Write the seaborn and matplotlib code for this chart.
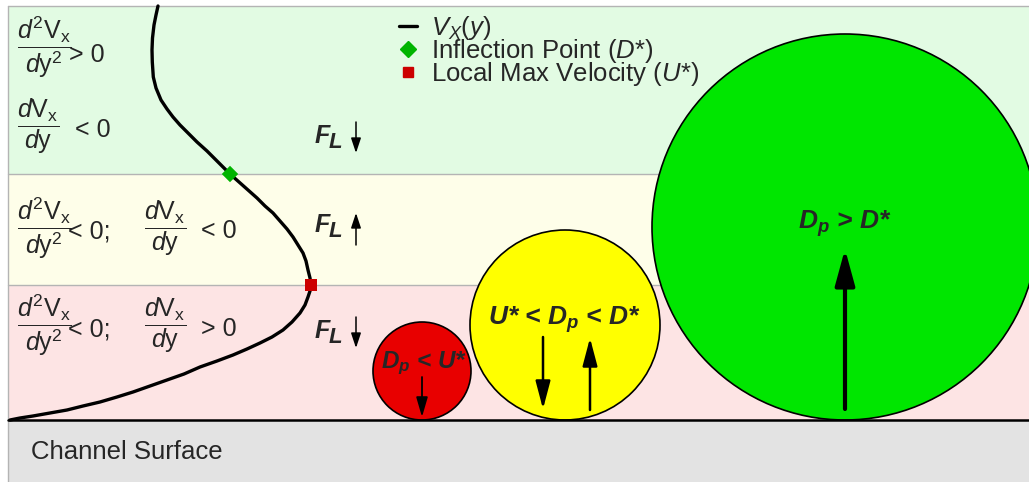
import matplotlib
matplotlib.use("Agg")
import matplotlib.pyplot as plt
from matplotlib.patches import Circle
from matplotlib.lines import Line2D
import seaborn as sns

sns.set_theme(style="white")
plt.rcParams["font.family"] = ["Liberation Sans", "DejaVu Sans"]
plt.rcParams["mathtext.fontset"] = "custom"
plt.rcParams["mathtext.rm"] = "Liberation Sans"
plt.rcParams["mathtext.it"] = "Liberation Sans:italic"
plt.rcParams["mathtext.bf"] = "Liberation Sans:bold"
plt.rcParams["mathtext.bfit"] = "Liberation Sans:bold:italic"
plt.rcParams["mathtext.sf"] = "Liberation Sans"

# ---- geometry of the channel (drawing units, y grows downward) ----
frame_left = 8
frame_top = 6
band_edges = [6, 174, 285, 420]          # tops/bottoms of the three flow zones
band_colors = ["#e2fbe3", "#fefee9", "#fde4e4"]
surface_y = 420
surface_color = "#e3e3e3"

# velocity profile V_x(y)
profile_x = [158, 156, 154, 152.5, 152, 152.3, 153.3, 156, 161, 167, 173, 180,
             188, 197, 207, 218, 230, 239, 248, 257, 265, 273, 280, 287, 293,
             298, 303, 306, 308, 310, 311, 310, 308, 305, 300, 292, 283, 272,
             260, 247, 233, 217, 200, 184, 167, 150, 133, 117, 100, 83, 67, 50,
             33, 20, 10]
profile_y = [6, 15, 25, 38, 50, 62, 77, 88, 100, 109, 117, 125, 133, 142, 151,
             162, 174, 182, 190, 198, 206, 213, 221, 229, 237, 245, 253, 261,
             270, 278, 285, 291, 297, 305, 313, 322, 330, 337, 343, 349, 355,
             361, 367, 374, 380, 386, 392, 397, 402, 406, 410, 413, 416, 418,
             420]
inflection = (230, 174)       # D*
local_max = (311, 285)        # U*

# particles resting on the surface
particle_x = [422, 565, 845]
particle_r = [49, 95, 193]
particle_colors = ["#e80000", "#ffff00", "#00e600"]
particle_labels = [r"$\mathbfit{D}_{\mathbfit{p}}$ < U*",
                   r"U* < $\mathbfit{D}_{\mathbfit{p}}$ < D*",
                   r"$\mathbfit{D}_{\mathbfit{p}}$ > D*"]

fig = plt.figure(figsize=(10.29, 4.82), dpi=100)
ax = fig.add_axes([0, 0, 1, 1])
ax.set_xlim(0, 1029)
ax.set_ylim(482, 0)
ax.axis("off")

# flow zones
for top, bot, col in zip(band_edges[:-1], band_edges[1:], band_colors):
    ax.fill_between([frame_left, 1029], top, bot, color=col, lw=0, zorder=0)
ax.fill_between([frame_left, 1029], surface_y, 482, color=surface_color, lw=0, zorder=0)
for y in band_edges[:-1]:
    ax.plot([frame_left, 1029], [y, y], color="#b4b4b4", lw=1.0, zorder=1)
ax.plot([frame_left, frame_left], [frame_top, 482], color="#b4b4b4", lw=1.0, zorder=1)

# particles
for cx, r, col in zip(particle_x, particle_r, particle_colors):
    ax.add_patch(Circle((cx, surface_y - r), r, facecolor=col,
                        edgecolor="black", lw=1.2, zorder=2))

ax.plot([frame_left, 1029], [surface_y, surface_y], color="black", lw=1.8, zorder=3)

# velocity profile (drawn in point order, no aggregation) and its characteristic points
sns.lineplot(x=profile_x, y=profile_y, sort=False, estimator=None, errorbar=None,
             ax=ax, color="black", lw=2.4, zorder=4)
sns.scatterplot(x=[inflection[0]], y=[inflection[1]], marker="D", s=70,
                color="#00b400", edgecolor="none", ax=ax, zorder=5)
sns.scatterplot(x=[local_max[0]], y=[local_max[1]], marker="s", s=75,
                color="#cc0000", edgecolor="none", ax=ax, zorder=5)
ax.set_xlim(0, 1029)
ax.set_ylim(482, 0)

# derivative annotations
frac2 = r"$\dfrac{\mathit{d}^{2}\mathrm{V}_{\mathrm{x}}}{\mathit{d}\mathrm{y}^{2}}$"
frac1 = r"$\dfrac{\mathit{d}\mathrm{V}_{\mathrm{x}}}{\mathit{d}\mathrm{y}}$"
fs = 18
ax.text(17, 47, frac2, fontsize=fs, va="center", ha="left", zorder=6)
ax.text(69, 62, "> 0", fontsize=fs, va="baseline", ha="left", zorder=6)
ax.text(17, 126, frac1, fontsize=fs, va="center", ha="left", zorder=6)
ax.text(75, 137, "< 0", fontsize=fs, va="baseline", ha="left", zorder=6)
ax.text(17, 228, frac2, fontsize=fs, va="center", ha="left", zorder=6)
ax.text(68, 238, "< 0;", fontsize=fs, va="baseline", ha="left", zorder=6)
ax.text(144, 228, frac1, fontsize=fs, va="center", ha="left", zorder=6)
ax.text(201, 238, "< 0", fontsize=fs, va="baseline", ha="left", zorder=6)
ax.text(17, 325, frac2, fontsize=fs, va="center", ha="left", zorder=6)
ax.text(68, 336, "< 0;", fontsize=fs, va="baseline", ha="left", zorder=6)
ax.text(144, 325, frac1, fontsize=fs, va="center", ha="left", zorder=6)
ax.text(201, 336, "> 0", fontsize=fs, va="baseline", ha="left", zorder=6)


def arrow(x, y0, y1, lw, hl, hw, ms=10):
    ax.annotate("", xy=(x, y1), xytext=(x, y0),
                arrowprops=dict(arrowstyle=f"-|>,head_length={hl},head_width={hw}",
                                lw=lw, color="black", shrinkA=0, shrinkB=0,
                                mutation_scale=ms),
                zorder=7)


# lift force direction in each zone
lift_y = [143, 232, 338]
lift_dir = [1, -1, 1]
for yb, d in zip(lift_y, lift_dir):
    ax.text(315, yb, "F", fontsize=18, fontweight="bold", style="italic",
            va="baseline", ha="left", zorder=6)
    ax.text(329, yb + 5, "L", fontsize=16, fontweight="bold", style="italic",
            va="baseline", ha="left", zorder=6)
    if d > 0:
        arrow(356, yb - 21, yb + 10, 1.1, 0.9, 0.3)
    else:
        arrow(356, yb + 13, yb - 19, 1.1, 0.9, 0.3)

# particle labels and forces
ax.text(424, 363, particle_labels[0], fontsize=17.5, fontweight="bold",
        style="italic", ha="center", va="center", zorder=6)
ax.text(565, 320, particle_labels[1], fontsize=19, fontweight="bold",
        style="italic", ha="center", va="center", zorder=6)
ax.text(845, 224, particle_labels[2], fontsize=19, fontweight="bold",
        style="italic", ha="center", va="center", zorder=6)
arrow(422, 377, 417, 1.3, 1.2, 0.35)
arrow(543, 337, 409, 1.8, 1.7, 0.45)
arrow(590, 410, 338, 1.8, 1.7, 0.45)
arrow(845, 409, 249, 3.0, 2.2, 0.6)

ax.text(31, 459, "Channel Surface", fontsize=18.5, va="baseline", ha="left", zorder=6)

# legend
handles = [Line2D([], [], color="black", lw=2.4),
           Line2D([], [], color="#00b400", marker="D", ls="none", markersize=8),
           Line2D([], [], color="#cc0000", marker="s", ls="none", markersize=7)]
labels = [r"$\mathit{V}_{\mathit{X}}\mathit{(y)}$",
          r"Inflection Point ($\mathit{D}$*)",
          r"Local Max Velocity ($\mathit{U}$*)"]
leg = ax.legend(handles, labels, loc="upper left",
                bbox_to_anchor=(399 / 1029, 1 - 14 / 482),
                frameon=False, fontsize=18.5, handlelength=0.7, handletextpad=0.55,
                labelspacing=-0.2, borderpad=0, borderaxespad=0)
leg.set_zorder(8)

fig.savefig("out.png", dpi=100, facecolor="white")
